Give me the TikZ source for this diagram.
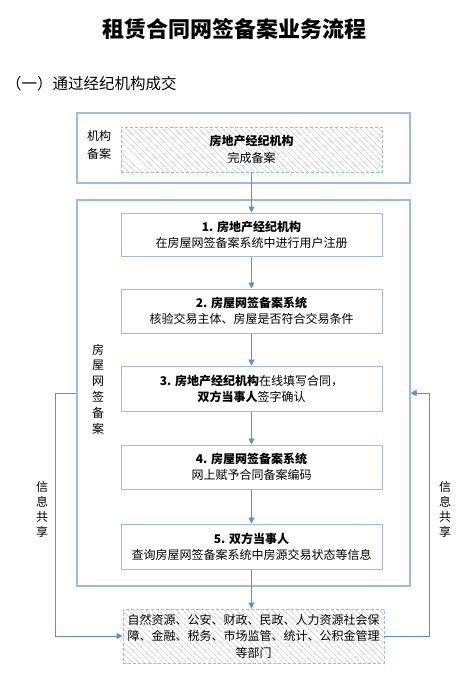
\documentclass[tikz,border=0pt]{standalone}
\usepackage{fontspec}
\setmainfont{Noto Sans CJK SC}
\usetikzlibrary{arrows.meta,patterns.meta}
\definecolor{boxblue}{RGB}{155,187,225}
\definecolor{arrowblue}{RGB}{91,143,208}
\definecolor{hatchgray}{RGB}{185,185,185}
\tikzset{
  outerbox/.style={draw=boxblue,line width=1.1pt,inner sep=0pt},
  stepbox/.style={draw=boxblue,line width=1pt,fill=white,minimum width=261pt,align=center,inner sep=0pt,font=\fontsize{12}{16}\selectfont},
  hatchbox/.style={draw=boxblue,line width=0.9pt,dashed,dash pattern=on 3pt off 2pt,
     pattern={Lines[angle=-45,distance=4pt,line width=0.35pt]},pattern color=hatchgray,
     align=center,inner sep=0pt,font=\fontsize{12}{16.5}\selectfont},
  flow/.style={draw=arrowblue,line width=0.9pt,-{Triangle[length=6pt,width=6pt]}},
  plainline/.style={draw=arrowblue,line width=0.9pt},
  lbl/.style={align=center,inner sep=0pt,font=\fontsize{12}{18}\selectfont},
  vlbl/.style={align=center,inner sep=0pt,font=\fontsize{12}{15.8}\selectfont},
}
\begin{document}
\begin{tikzpicture}[x=1pt,y=-1pt]
\useasboundingbox (0,0) rectangle (469,677);
% title
\node[font=\fontsize{22}{26}\selectfont\bfseries] (title) at (234,29) {租赁合同网签备案业务流程};
\node[anchor=west,inner sep=0pt,font=\fontsize{15.5}{18}\selectfont] (sub) at (6,84) {（一）通过经纪机构成交};
% outer boxes
\node[outerbox,minimum width=333pt,minimum height=70pt] (oA) at (243.5,148) {};
\node[outerbox,minimum width=333pt,minimum height=386pt] (oB) at (243.5,393) {};
% labels
\node[lbl] (lA) at (99,145) {机构\\备案};
\node[vlbl] (lB) at (98,389) {房\\屋\\网\\签\\备\\案};
% hatched top
\node[hatchbox,minimum width=261pt,minimum height=45pt] (hA) at (251.5,149.5) {\textbf{房地产经纪机构}\\完成备案};
% steps
\node[stepbox,minimum height=43pt] (b1) at (251.5,234.5) {\textbf{1. 房地产经纪机构}\\在房屋网签备案系统中进行用户注册};
\node[stepbox,minimum height=44pt] (b2) at (251.5,311) {\textbf{2. 房屋网签备案系统}\\核验交易主体、房屋是否符合交易条件};
\node[stepbox,minimum height=45pt] (b3) at (251.5,388.5) {\textbf{3. 房地产经纪机构}在线填写合同，\\\textbf{双方当事人}签字确认};
\node[stepbox,minimum height=44pt] (b4) at (251.5,467) {\textbf{4. 房屋网签备案系统}\\网上赋予合同备案编码};
\node[stepbox,minimum height=45pt] (b5) at (251.5,546.5) {\textbf{5. 双方当事人}\\查询房屋网签备案系统中房源交易状态等信息};
% bottom hatched
\node[hatchbox,minimum width=261pt,minimum height=54pt] (hB) at (253.5,636) {自然资源、公安、财政、民政、人力资源社会保\\障、金融、税务、市场监管、统计、公积金管理\\等部门};
% flow arrows
\draw[flow] (hA.south) -- (b1.north);
\draw[flow] (b1) -- (b2);
\draw[flow] (b2) -- (b3);
\draw[flow] (b3) -- (b4);
\draw[flow] (b4) -- (b5);
\draw[flow] (b5.south) -- (b5.south |- hB.north);
% info sharing
\coordinate (lStart) at (oB.west |- 0,393);
\coordinate (lTop) at (55,393);
\coordinate (lBot) at (55,636);
\draw[flow] (lStart) -- (lTop) -- (lBot) -- (hB.west);
\coordinate (rEnd) at (oB.east |- 0,393);
\coordinate (rTop) at (429,393);
\coordinate (rBot) at (429,636);
\draw[flow] (hB.east) -- (rBot) -- (rTop) -- (rEnd);
\node[vlbl,font=\fontsize{12}{15}\selectfont] (iL) at (42,509) {信\\息\\共\\享};
\node[vlbl,font=\fontsize{12}{15}\selectfont] (iR) at (445,509) {信\\息\\共\\享};
\end{tikzpicture}
\end{document}
